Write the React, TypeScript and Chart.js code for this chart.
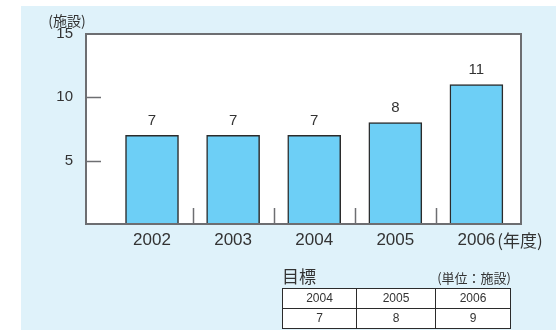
import React, { useEffect, useRef } from 'react';
import { Chart, registerables } from 'chart.js';
Chart.register(...registerables);

const categories = ['2002', '2003', '2004', '2005', '2006'];
const values = [7, 7, 7, 8, 11];
const yTicks = [5, 10, 15];
const unitLabel = '(施設)';
const yearSuffix = '(年度)';
const targetTitle = '目標';
const targetUnit = '(単位：施設)';
const targetYears = ['2004', '2005', '2006'];
const targetValues = [7, 8, 9];

const TEXT = '#333333';
const FRAME = '#6d6e71';
const NUM_FONT = '"Liberation Sans", Arial, sans-serif';
const CJK_FONT = '"Noto Sans CJK JP", "Noto Sans", sans-serif';

const decor = {
  id: 'decor',
  beforeDraw(chart: any) {
    const { ctx, chartArea: a } = chart;
    ctx.save();
    ctx.fillStyle = '#ffffff';
    ctx.fillRect(a.left, a.top, a.right - a.left, a.bottom - a.top);
    ctx.restore();
  },
  afterDatasetsDraw(chart: any) {
    const { ctx, chartArea: a, scales } = chart;
    const x = scales.x;
    const y = scales.y;
    ctx.save();
    ctx.strokeStyle = FRAME;
    ctx.lineWidth = 1.5;
    // inward y ticks
    for (const t of yTicks) {
      if (t >= 15) continue;
      const py = Math.round(y.getPixelForValue(t)) + 0.5;
      ctx.beginPath();
      ctx.moveTo(a.left, py);
      ctx.lineTo(a.left + 15, py);
      ctx.stroke();
    }
    // x separators
    for (let i = 0; i < categories.length - 1; i++) {
      const px = Math.round(x.getPixelForValue(i + 0.5)) + 0.5;
      ctx.beginPath();
      ctx.moveTo(px, a.bottom);
      ctx.lineTo(px, a.bottom - 16);
      ctx.stroke();
    }
    // frame
    ctx.lineWidth = 2;
    ctx.strokeRect(a.left, a.top, a.right - a.left, a.bottom - a.top);

    // value labels
    const meta = chart.getDatasetMeta(0);
    ctx.fillStyle = TEXT;
    ctx.font = `15px ${NUM_FONT}`;
    ctx.textAlign = 'center';
    ctx.textBaseline = 'bottom';
    meta.data.forEach((el: any, i: number) => {
      ctx.fillText(String(values[i]), el.x, el.y - 7);
    });

    // unit label
    ctx.font = `14px ${CJK_FONT}`;
    ctx.textAlign = 'center';
    ctx.textBaseline = 'middle';
    ctx.fillText(unitLabel, 67, 21);

    // year suffix
    const last = categories.length - 1;
    ctx.font = `17px ${NUM_FONT}`;
    const w = ctx.measureText(categories[last]).width;
    ctx.font = `17px ${CJK_FONT}`;
    ctx.textAlign = 'left';
    ctx.textBaseline = 'middle';
    ctx.fillText(yearSuffix, x.getPixelForValue(last) + w / 2 + 2, x.top + 6 + 10.2);
    ctx.restore();
  },
};

export default function App() {
  const ref = useRef<HTMLCanvasElement | null>(null);
  useEffect(() => {
    if (!ref.current) return;
    const chart = new Chart(ref.current, {
      type: 'bar',
      data: {
        datasets: [
          {
            data: values.map((v, i) => ({ x: i, y: v })),
            backgroundColor: '#6dcff6',
            borderColor: '#2b2b2b',
            borderWidth: 1.5,
            barThickness: 53,
          },
        ],
      },
      options: {
        responsive: false,
        animation: false,
        devicePixelRatio: 1,
        layout: { padding: { left: 0, top: 34, right: 35, bottom: 0 } },
        plugins: { legend: { display: false }, tooltip: { enabled: false } },
        scales: {
          x: {
            type: 'linear',
            min: -0.814,
            max: 4.55,
            offset: false,
            grid: { display: false, drawTicks: false },
            border: { display: false },
            afterBuildTicks: (s: any) => {
              s.ticks = categories.map((_, i) => ({ value: i }));
            },
            afterFit: (s: any) => {
              s.height = 106;
            },
            ticks: {
              autoSkip: false,
              maxRotation: 0,
              padding: 6,
              color: TEXT,
              font: { family: NUM_FONT, size: 17 },
              callback: (v: any) => categories[v] ?? '',
            },
          },
          y: {
            min: 0,
            max: 15,
            grid: { display: false, drawTicks: false },
            border: { display: false },
            afterBuildTicks: (s: any) => {
              s.ticks = yTicks.map((v) => ({ value: v }));
            },
            afterFit: (s: any) => {
              s.width = 86;
            },
            ticks: {
              padding: 13,
              color: TEXT,
              font: { family: NUM_FONT, size: 15 },
            },
          },
        },
      } as any,
      plugins: [decor],
    });
    return () => chart.destroy();
  }, []);

  const colW = [73, 78, 74];
  const cell = (w: number): React.CSSProperties => ({
    width: w,
    height: 19,
    padding: 0,
    border: '1px solid #2b2b2b',
    textAlign: 'center',
    fontFamily: NUM_FONT,
    fontSize: 12,
    lineHeight: '19px',
    color: TEXT,
  });

  return (
    <div style={{ position: 'absolute', left: 0, top: 0, width: 556, height: 330, background: '#fff', overflow: 'hidden' }}>
      <div style={{ position: 'absolute', left: 21, top: 6, width: 535, height: 324, background: '#dff2fa' }} />
      <canvas ref={ref} width={556} height={330} style={{ position: 'absolute', left: 0, top: 0, width: 556, height: 330 }} />
      <div style={{ position: 'absolute', left: 282, top: 266, fontFamily: CJK_FONT, fontSize: 17, lineHeight: '20px', color: TEXT }}>{targetTitle}</div>
      <div style={{ position: 'absolute', left: 380, width: 131, textAlign: 'right', top: 270, fontFamily: CJK_FONT, fontSize: 13, lineHeight: '16px', color: TEXT }}>{targetUnit}</div>
      <table style={{ position: 'absolute', left: 282, top: 288, borderCollapse: 'collapse', background: '#fff', tableLayout: 'fixed' }}>
        <tbody>
          <tr>{targetYears.map((y, i) => <td key={y} style={cell(colW[i])}>{y}</td>)}</tr>
          <tr>{targetValues.map((v, i) => <td key={i} style={cell(colW[i])}>{v}</td>)}</tr>
        </tbody>
      </table>
    </div>
  );
}
